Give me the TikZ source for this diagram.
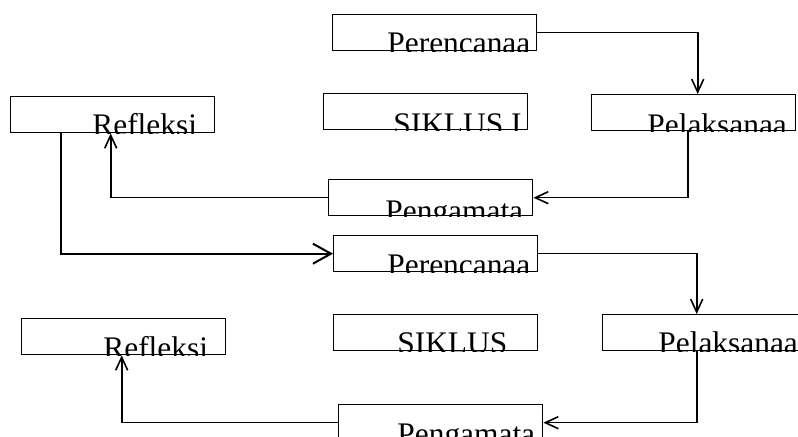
\documentclass[tikz,border=0pt]{standalone}
\usepackage{fontspec}
\setmainfont{Liberation Serif}
\usetikzlibrary{arrows.meta}

\tikzset{
    kotak/.style={draw, line width=0.7pt, anchor=north west,
        minimum width=102pt, minimum height=18pt, inner sep=0pt},
    teks/.style={anchor=base west, inner sep=0pt},
    panah/.style={line width=0.8pt, -{Straight Barb[length=6.5pt, width=6pt]}},
    panahbesar/.style={line width=1pt, -{Straight Barb[length=9pt, width=10pt]}},
}

\begin{document}
\begin{tikzpicture}[x=0.5pt, y=-0.5pt, font=\fontsize{15.7pt}{18pt}\selectfont]
        % Setup the frame
        \path[use as bounding box, clip] (0,0) rectangle (798,437);

        % Siklus I
        \node[kotak] (rencana1) at (332,14) {};
        \node[kotak] (refleksi1) at (10,96) {};
        \node[kotak] (siklus1) at (323,93) {};
        \node[kotak] (laksana1) at (591,94) {};
        \node[kotak] (amat1) at (328,179) {};

        % Siklus II
        \node[kotak] (rencana2) at (333,235) {};
        \node[kotak] (refleksi2) at (21,318) {};
        \node[kotak] (siklus2) at (333,314) {};
        \node[kotak] (laksana2) at (602,314) {};
        \node[kotak] (amat2) at (338,404) {};

        % Labels, cut off at the bottom of each box
        \foreach \nama/\isi/\gx/\gy in {rencana1/Perencanaa/27.5/1.25,
                refleksi1/Refleksi/41/1, siklus1/SIKLUS I/35/2,
                laksana1/Pelaksanaa/28/2, amat1/Pengamata/28.5/2.5,
                rencana2/Perencanaa/27/1.5, refleksi2/Refleksi/41/1.5,
                siklus2/SIKLUS/32/1, laksana2/Pelaksanaa/28/1,
                amat2/Pengamata/29.5/1.5} {
            \begin{scope}
                \clip (\nama.south west) rectangle (\nama.north east);
                \node[teks] at ([xshift=\gx pt, yshift=-\gy pt]\nama.south west) {\isi};
            \end{scope}
        }

        % Connectors
        \draw[panah] (rencana1.east) -| ([xshift=2pt]laksana1.north);
        \draw[panah] ([xshift=-3pt]laksana1.south) |- (amat1.east);
        \draw[panah] (amat1.west) -| ([xshift=-1pt]refleksi1.south);
        \draw[panahbesar] ([xshift=-26pt]refleksi1.south) |- (rencana2.west);
        \draw[panah] (rencana2.east) -| ([xshift=-4pt]laksana2.north);
        \draw[panah] ([xshift=-4pt]laksana2.south) |- (amat2.east);
        \draw[panah] (amat2.west) -| ([xshift=-1pt]refleksi2.south);

    \end{tikzpicture}
\end{document}
